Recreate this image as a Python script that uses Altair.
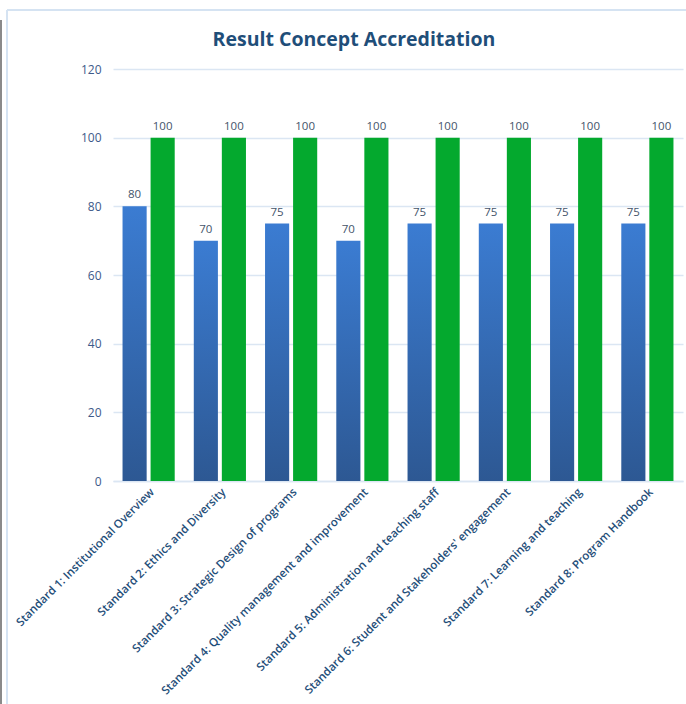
import altair as alt
import pandas as pd

categories = [
    "Standard 1: Institutional Overview",
    "Standard 2: Ethics and Diversity",
    "Standard 3: Strategic Design of programs",
    "Standard 4: Quality management and improvement",
    "Standard 5: Administration and teaching staff",
    "Standard 6: Student and Stakeholders' engagement",
    "Standard 7: Learning and teaching",
    "Standard 8: Program Handbook",
]
result_values = [80, 70, 75, 70, 75, 75, 75, 75]
target_values = [100, 100, 100, 100, 100, 100, 100, 100]
series_names = ["Result", "Target"]
y_ticks = [0, 20, 40, 60, 80, 100, 120]
title_text = "Result Concept Accreditation"

rows = []
for c, r, t in zip(categories, result_values, target_values):
    rows.append({"category": c, "series": series_names[0], "value": r})
    rows.append({"category": c, "series": series_names[1], "value": t})
df = pd.DataFrame(rows)

LABEL_FONT = "Open Sans"
axis_color = "#3d5a8a"
grid_color = "#dbe6f3"

x_enc = alt.X(
    "category:N",
    sort=categories,
    scale=alt.Scale(paddingInner=0, paddingOuter=0),
    axis=alt.Axis(
        title=None,
        labelAngle=-45,
        labelAlign="right",
        labelBaseline="top",
        labelFont=LABEL_FONT,
        labelFontSize=11.5,
        labelFontWeight=600,
        labelColor="#1f4e79",
        labelPadding=5,
        labelLimit=400,
        ticks=False,
        domain=True,
        domainColor=grid_color,
        domainWidth=1.5,
        grid=False,
    ),
)
y_enc = alt.Y(
    "value:Q",
    scale=alt.Scale(domain=[0, 120]),
    axis=alt.Axis(
        title=None,
        values=y_ticks,
        labelFont=LABEL_FONT,
        labelFontSize=12,
        labelColor=axis_color,
        labelPadding=12,
        ticks=False,
        domain=False,
        grid=True,
        gridColor=grid_color,
        gridWidth=1.5,
    ),
)
xoff = alt.XOffset(
    "series:N",
    sort=series_names,
    scale=alt.Scale(domain=series_names, paddingInner=0.14, paddingOuter=0.34),
)

base = alt.Chart(df).encode(x=x_enc, y=y_enc, xOffset=xoff)

blue = base.transform_filter(alt.datum.series == series_names[0]).mark_bar(
    color=alt.Gradient(
        gradient="linear",
        x1=0, y1=0, x2=0, y2=1,
        stops=[
            alt.GradientStop(color="#3b7cd2", offset=0),
            alt.GradientStop(color="#2d5893", offset=1),
        ],
    )
)
green = base.transform_filter(alt.datum.series == series_names[1]).mark_bar(color="#04a92e")

labels = base.mark_text(
    baseline="bottom", dy=-6, font=LABEL_FONT, fontSize=11.5, color="#44546a"
).encode(text="value:Q")

frame_color = "#d5e3f2"
frame_top = alt.Chart(df).mark_rule(color=frame_color, strokeWidth=1.5).encode(
    x=alt.value(-106), x2=alt.value(600), y=alt.value(-59)
)
frame_left = alt.Chart(df).mark_rule(color=frame_color, strokeWidth=1.5).encode(
    x=alt.value(-106), y=alt.value(-59), y2=alt.value(700)
)
gray_left = alt.Chart(df).mark_rule(color="#8a8a8a", strokeWidth=1.5).encode(
    x=alt.value(-112), y=alt.value(-49), y2=alt.value(700)
)
title = alt.Chart(pd.DataFrame({"t": [title_text]})).mark_text(
    font=LABEL_FONT, fontSize=19.5, fontWeight="bold", color="#1f4e79",
    align="center", baseline="alphabetic",
).encode(text="t:N", x=alt.value(241), y=alt.value(-23))

chart = (
    alt.layer(frame_top, frame_left, gray_left, blue, green, labels, title)
    .properties(
        width=570,
        height=412,
        autosize=alt.AutoSizeParams(type="none"),
        padding={"left": 113, "top": 69, "right": 3, "bottom": 223},
    )
    .configure_view(stroke=None)
)

chart.save("out.html", embed_options={"renderer": "svg", "actions": False})
